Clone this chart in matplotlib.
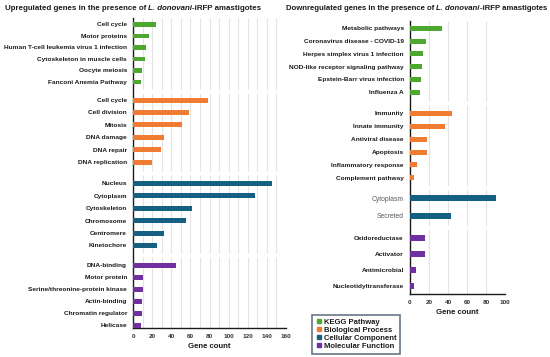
import matplotlib
matplotlib.use("Agg")
import matplotlib.pyplot as plt
from matplotlib.lines import Line2D

# ---------------- data ----------------
up_kegg_labels = ["Cell cycle", "Motor proteins", "Human T-cell leukemia virus 1 infection",
                  "Cytoskeleton in muscle cells", "Oocyte meiosis", "Fanconi Anemia Pathway"]
up_kegg_vals = [24, 17, 13, 12, 9.5, 8]
up_bp_labels = ["Cell cycle", "Cell division", "Mitosis", "DNA damage", "DNA repair", "DNA replication"]
up_bp_vals = [78.5, 58, 51, 32, 29, 20]
up_cc_labels = ["Nucleus", "Cytoplasm", "Cytoskeleton", "Chromosome", "Centromere", "Kinetochore"]
up_cc_vals = [146, 128, 61.5, 55, 32, 25]
up_mf_labels = ["DNA-binding", "Motor protein", "Serine/threonine-protein kinase", "Actin-binding",
                "Chromatin regulator", "Helicase"]
up_mf_vals = [45, 10, 10, 9, 9, 8]

down_kegg_labels = ["Metabolic pathways", "Coronavirus disease - COVID-19", "Herpes simplex virus 1 infection",
                    "NOD-like receptor signaling pathway", "Epstein-Barr virus infection", "Influenza A"]
down_kegg_vals = [34, 16.5, 13.3, 12.3, 11.6, 10.5]
down_bp_labels = ["Immunity", "Innate immunity", "Antiviral disease", "Apoptosis",
                  "Inflammatory response", "Complement pathway"]
down_bp_vals = [44, 37, 18, 18, 7.7, 4.2]
down_cc_labels = ["Cytoplasm", "Secreted"]
down_cc_vals = [90, 43]
down_mf_labels = ["Oxidoreductase", "Activator", "Antimicrobial", "Nucleotidyltransferase"]
down_mf_vals = [16, 16, 6.7, 4.5]

legend_labels = ["KEGG Pathway", "Biological Process", "Cellular Component", "Molecular Function"]
up_ticks = [0, 20, 40, 60, 80, 100, 120, 140, 160]
down_ticks = [0, 20, 40, 60, 80, 100]

# ---------------- style ----------------
C_GREEN = "#4EA72E"
C_ORANGE = "#F07B33"
C_BLUE = "#156082"
C_PURPLE = "#7030A0"
colors = [C_GREEN, C_ORANGE, C_BLUE, C_PURPLE]
FONT = "Liberation Sans"
TXT = "#1a1a1a"
LAB_FS = 4.65

W, H = 550, 357
fig = plt.figure(figsize=(W / 100, H / 100), dpi=100)
fig.patch.set_facecolor("white")


def rect(x0, x1, ytop, ybot):
    return [x0 / W, 1 - ybot / H, (x1 - x0) / W, (ybot - ytop) / H]


def layout(first, steps, gaps, counts):
    pos = []
    y = first
    for g, (s, n) in enumerate(zip(steps, counts)):
        for i in range(n):
            pos.append(y)
            if i < n - 1:
                y += s
        if g < len(gaps):
            y += gaps[g]
    return pos


def panel(rect_px, groups, steps, gaps, first, heights, xmax, grid_step, ticks,
          label_styles, grid_gap=4):
    x0, x1, ytop, ybot = rect_px
    ax = fig.add_axes(rect(x0, x1, ytop, ybot))
    counts = [len(g[0]) for g in groups]
    pos = layout(first, steps, gaps, counts)
    labels, vals, cols, hts = [], [], [], []
    for gi, (lab, val) in enumerate(groups):
        labels += lab
        vals += val
        cols += [colors[gi]] * len(lab)
        hts += [heights[gi]] * len(lab)
    ax.barh(pos, vals, height=hts, color=cols, zorder=3)
    ax.set_ylim(ybot, ytop)
    ax.set_xlim(0, xmax)
    # gridline segments per group
    idx = 0
    bounds = []
    for n in counts:
        bounds.append((pos[idx], pos[idx + n - 1]))
        idx += n
    seg = []
    for gi, (a, b) in enumerate(bounds):
        top = ytop if gi == 0 else (bounds[gi - 1][1] + a) / 2 + grid_gap / 2
        bot = ybot if gi == len(bounds) - 1 else (b + bounds[gi + 1][0]) / 2 - grid_gap / 2
        seg.append((top, bot))
    gx = list(range(grid_step, xmax + 1, grid_step))
    for top, bot in seg:
        ax.vlines(gx, bot, top, colors="#e3e3e3", linewidth=0.8, zorder=1)
    ax.set_yticks(pos)
    ax.set_yticklabels(labels)
    for t, st in zip(ax.get_yticklabels(), label_styles(labels, counts)):
        t.set_fontfamily(FONT)
        t.set_fontsize(st[0])
        t.set_fontweight(st[1])
        t.set_color(st[2])
    ax.set_xticks(ticks)
    ax.set_xticklabels([str(t) for t in ticks], fontsize=4.6, fontweight="bold",
                       family=FONT, color="#333333")
    ax.tick_params(axis="y", length=0, pad=4.5)
    ax.tick_params(axis="x", length=0, pad=4)
    for s in ["top", "right"]:
        ax.spines[s].set_visible(False)
    for s in ["left", "bottom"]:
        ax.spines[s].set_color("#1a1a1a")
        ax.spines[s].set_linewidth(1.0)
    ax.set_xlabel("Gene count", fontsize=5.6, fontweight="bold", family=FONT, color=TXT, labelpad=3)
    return ax


def up_styles(labels, counts):
    return [(LAB_FS, "bold", TXT)] * len(labels)


def down_styles(labels, counts):
    out = []
    for gi, n in enumerate(counts):
        for _ in range(n):
            if gi == 2:
                out.append((4.9, "normal", "#595959"))
            else:
                out.append((LAB_FS, "bold", TXT))
    return out


panel((133.3, 285.7, 18, 328),
      [(up_kegg_labels, up_kegg_vals), (up_bp_labels, up_bp_vals),
       (up_cc_labels, up_cc_vals), (up_mf_labels, up_mf_vals)],
      steps=[11.5, 12.4, 12.4, 12.0], gaps=[18.3, 21.3, 19.7], first=24.3,
      heights=[4.5, 5, 5, 5], xmax=160, grid_step=10, ticks=up_ticks,
      label_styles=up_styles)

panel((410, 505, 21, 294),
      [(down_kegg_labels, down_kegg_vals), (down_bp_labels, down_bp_vals),
       (down_cc_labels, down_cc_vals), (down_mf_labels, down_mf_vals)],
      steps=[12.8, 12.9, 17.4, 15.8], gaps=[21.0, 20.6, 22.6], first=28.3,
      heights=[5, 5, 6, 6], xmax=100, grid_step=20, ticks=down_ticks,
      label_styles=down_styles)


# ---------------- titles (bold with italic species name) ----------------
def title(x_px, y_px, first, fs):
    kw = dict(fontsize=fs, fontweight="bold", family=FONT, color=TXT, va="center")
    t1 = fig.text(x_px / W, 1 - y_px / H, first, ha="left", **kw)
    t2 = plt.annotate("L. donovani", xy=(1, 0.5), xycoords=t1, xytext=(0, 0),
                      textcoords="offset points", ha="left", fontstyle="italic",
                      annotation_clip=False, **kw)
    plt.annotate("-iRFP amastigotes", xy=(1, 0.5), xycoords=t2, xytext=(0, 0),
                 textcoords="offset points", ha="left", annotation_clip=False, **kw)


title(4.7, 8, "Upregulated genes in the presence of ", 5.7)
title(286, 8, "Downregulated genes in the presence of ", 5.55)

# ---------------- legend ----------------
handles = [Line2D([], [], marker="s", linestyle="none", markersize=3, color=c) for c in colors]
leg = fig.legend(handles, legend_labels, loc="upper left",
                 bbox_to_anchor=(312 / W, 1 - 315 / H), borderaxespad=0,
                 frameon=True, fancybox=False, handletextpad=0.15, handlelength=1.0,
                 labelspacing=0.1, borderpad=0.45,
                 prop={"family": FONT, "size": 5.5, "weight": "bold"})
leg.get_frame().set_edgecolor("#44546A")
leg.get_frame().set_linewidth(1.2)
for t in leg.get_texts():
    t.set_color(TXT)

fig.savefig("out.png", dpi=100, facecolor="white")
